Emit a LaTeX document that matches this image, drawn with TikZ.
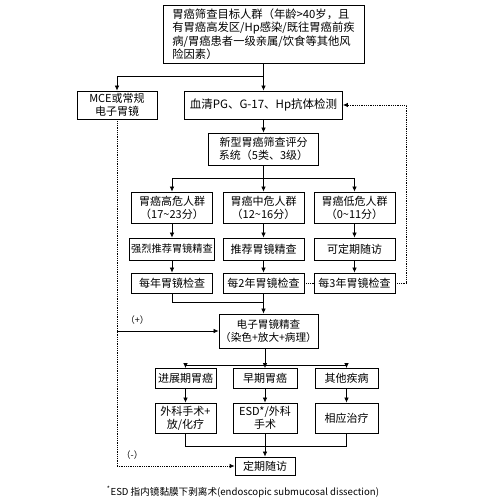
\documentclass[tikz,border=0pt]{standalone}
\usepackage{fontspec}
\newfontfamily\cjk{Noto Sans CJK SC}
\usetikzlibrary{arrows.meta,positioning,calc}
\tikzset{
  stepbox/.style={
    draw=black, line width=0.8pt, fill=white, inner sep=1pt,
    align=center, font=\cjk\fontsize{11}{13}\selectfont
  },
  flowlink/.style={-{Latex[length=5pt,width=4.5pt]}, line width=0.7pt},
  plainlink/.style={line width=0.7pt},
  dotlink/.style={line width=0.8pt, densely dotted},
  signlabel/.style={font=\cjk\fontsize{9}{10}\selectfont, inner sep=0pt}
}

\begin{document}
\begin{tikzpicture}[x=1pt, y=-1pt]
\useasboundingbox (0,0) rectangle (500,500);

% screening entry
\node[stepbox, minimum width=201pt, minimum height=58pt, align=left, font=\cjk\fontsize{11.3}{13.5}\selectfont] (target) at (263.5,34)
  {胃癌筛查目标人群（年龄>40岁，且\\有胃癌高发区/Hp感染/既往胃癌前疾\\病/胃癌患者一级亲属/饮食等其他风\\险因素）};
\node[stepbox, minimum width=80pt, minimum height=28pt] (mce) at (117,105) {MCE或常规\\电子胃镜};
\node[stepbox, minimum width=158pt, minimum height=28pt, font=\cjk\fontsize{11.5}{13}\selectfont] (serum) at (263.5,105) {血清PG、G-17、Hp抗体检测};
\node[stepbox, minimum width=110pt, minimum height=32pt] (score) at (263.5,149) {新型胃癌筛查评分\\系统（5类、3级）};

% risk groups
\node[stepbox, minimum width=81pt, minimum height=31pt] (high) at (172,207.5) {胃癌高危人群\\（17\textasciitilde23分）};
\node[stepbox, minimum width=81pt, minimum height=31pt] (mid) at (263.5,207.5) {胃癌中危人群\\（12\textasciitilde16分）};
\node[stepbox, minimum width=81pt, minimum height=31pt] (low) at (354.5,207.5) {胃癌低危人群\\（0\textasciitilde11分）};

\node[stepbox, minimum width=85pt, minimum height=22pt, font=\cjk\fontsize{10.2}{12}\selectfont] (highrec) at (172,249) {强烈推荐胃镜精查};
\node[stepbox, minimum width=81pt, minimum height=22pt] (midrec) at (263.5,249) {推荐胃镜精查};
\node[stepbox, minimum width=81pt, minimum height=22pt] (lowrec) at (354.5,249) {可定期随访};

\node[stepbox, minimum width=81pt, minimum height=20pt] (highyear) at (172,283) {每年胃镜检查};
\node[stepbox, minimum width=81pt, minimum height=20pt] (midyear) at (263.5,283) {每2年胃镜检查};
\node[stepbox, minimum width=81pt, minimum height=20pt] (lowyear) at (354.5,283) {每3年胃镜检查};

% endoscopy and outcomes
\node[stepbox, minimum width=99pt, minimum height=34pt, font=\cjk\fontsize{10.6}{13}\selectfont] (exam) at (268.5,331) {电子胃镜精查\\（染色+放大+病理）};

\node[stepbox, minimum width=61pt, minimum height=20pt] (adv) at (185.5,378.5) {进展期胃癌};
\node[stepbox, minimum width=64pt, minimum height=20pt] (early) at (265,378.5) {早期胃癌};
\node[stepbox, minimum width=63pt, minimum height=20pt] (other) at (346.5,378.5) {其他疾病};

\node[stepbox, minimum width=61pt, minimum height=30pt] (advtx) at (185.5,418) {外科手术+\\放/化疗};
\node[stepbox, minimum width=64pt, minimum height=30pt] (earlytx) at (265,418) {ESD*/外科\\手术};
\node[stepbox, minimum width=63pt, minimum height=30pt] (othertx) at (346.5,418) {相应治疗};

\node[stepbox, minimum width=60pt, minimum height=18pt] (follow) at (265,466) {定期随访};

\node[font=\cjk\fontsize{9.6}{11}\selectfont, inner sep=0pt] (footnote) at (243,492)
  {\textsuperscript{*}ESD 指内镜黏膜下剥离术(endoscopic submucosal dissection)};

% connectors
\coordinate (topsplit) at (263.5,76);
\draw[plainlink] (target.south) -- (topsplit);
\draw[flowlink] (topsplit) -| (mce.north);
\draw[flowlink] (topsplit) -- (serum.north);
\draw[flowlink] (serum.south) -- (score.north);

\coordinate (risksplit) at (263.5,178);
\draw[flowlink] (score.south) -- (mid.north);
\draw[flowlink] (risksplit) -| (high.north);
\draw[flowlink] (risksplit) -| (low.north);

\draw[flowlink] (high.south) -- (highrec.north);
\draw[flowlink] (mid.south) -- (midrec.north);
\draw[flowlink] (low.south) -- (lowrec.north);
\draw[flowlink] (highrec.south) -- (highyear.north);
\draw[flowlink] (midrec.south) -- (midyear.north);
\draw[flowlink] (lowrec.south) -- (lowyear.north);

\draw[dotlink] (midyear.east) -- (lowyear.west);
\draw[dotlink, -{Latex[length=5pt,width=4.5pt]}] (lowyear.east) -- ++(11,0) |- (serum.east);

\coordinate (examjoin) at (263.5,302);
\draw[plainlink] (highyear.south) |- (examjoin);
\draw[flowlink] (midyear.south) -- (midyear.south |- exam.north);

\draw[dotlink] (mce.south) -- (mce.south |- follow.west);
\draw[flowlink] (mce.south |- exam.west) -- node[signlabel, pos=0.2, above=6pt] {（+）} (exam.west);
\draw[dotlink, -{Latex[length=5pt,width=4.5pt]}] (mce.south |- follow.west) -- node[signlabel, pos=0.13, above=6pt] {（-）} (follow.west);

\coordinate (outsplit) at (265,365);
\draw[flowlink] (early.north |- exam.south) -- (early.north);
\draw[flowlink] (outsplit) -| (adv.north);
\draw[flowlink] (outsplit) -| (other.north);

\draw[flowlink] (adv.south) -- (advtx.north);
\draw[flowlink] (early.south) -- (earlytx.north);
\draw[flowlink] (other.south) -- (othertx.north);

\coordinate (followjoin) at (265,446);
\draw[plainlink] (advtx.south) |- (followjoin);
\draw[plainlink] (othertx.south) |- (followjoin);
\draw[flowlink] (earlytx.south) -- (follow.north);

\end{tikzpicture}
\end{document}
